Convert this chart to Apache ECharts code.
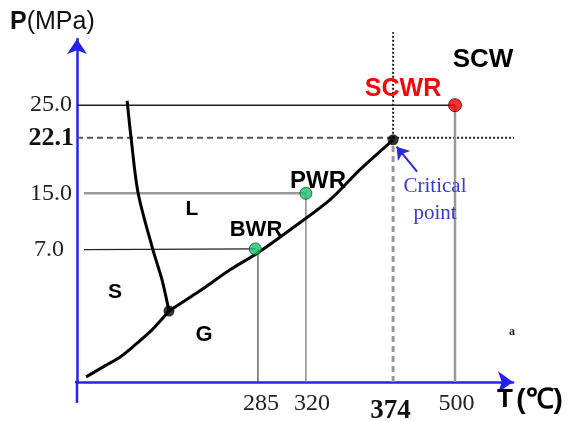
<!DOCTYPE html>
<html><head><meta charset="utf-8">
<script src="https://cdn.jsdelivr.net/npm/echarts@6/dist/echarts.min.js"></script>
<style>html,body{margin:0;padding:0;background:#fff}#c{width:583px;height:421px}</style>
</head><body><div id="c"></div>
<script>
// Schematic phase diagram of water: the original axes are not drawn to scale,
// so values are placed in schematic axis units.
const tempLabels = ['285', '320', '374', '500'];
const tempPos = [41.5, 52.5, 72.5, 86.7];
const presLabels = ['7.0', '15.0', '22.1', '25.0'];
const presPos = [38.6, 55.0, 71.2, 80.7];

const sublimationCurve = [[2.1, 1.5], [6.4, 4.7], [9.9, 7.3], [13.3, 10.8], [17.2, 15.2], [21.1, 20.7]];
const vaporizationCurve = [[21.1, 20.7], [28.2, 26.6], [35.1, 32.7], [41.5, 37.7], [48.9, 44.4], [58.0, 53.1], [64.9, 61.9], [72.5, 70.6]];
const meltingCurve = [[21.1, 20.7], [19.5, 29.8], [17.4, 38.6], [14.0, 55.2], [12.4, 71.2], [11.5, 82.0]];

const triplePoint = [21.1, 20.7];
const criticalPoint = [72.5, 70.6];
const bwrPoint = [40.9, 38.8];
const pwrPoint = [52.5, 55.0];
const scwrPoint = [86.7, 80.7];
const criticalArrow = [[78.0, 61.3], [73.3, 68.6]];
const dottedEndX = 101.2;
const dottedEndY = 102.0;
const axisBackX = -4.6;
const axisBackY = -6.1;

const chart = echarts.init(document.getElementById('c'), null, {renderer: 'canvas'});

function lineSeries(data, style, z) {
  return {type: 'line', data: data, symbol: 'none', silent: true, clip: false, z: z || 2,
    lineStyle: style, animation: false};
}

const blue = '#2323f0';
const series = [
  // axis extensions past the origin
  lineSeries([[axisBackX, 0], [0, 0]], {color: blue, width: 2.5}, 1),
  lineSeries([[0, axisBackY], [0, 0]], {color: blue, width: 2.5}, 1),
  // reference lines
  lineSeries([[0, presPos[3]], scwrPoint], {color: '#222', width: 1.5}),
  lineSeries([[0, presPos[2]], [criticalPoint[0], presPos[2]]], {color: '#555', width: 2, type: [6, 4]}),
  lineSeries([[criticalPoint[0], presPos[2]], [dottedEndX, presPos[2]]], {color: '#222', width: 2, type: [2, 2]}),
  lineSeries([[1.6, presPos[1]], pwrPoint], {color: '#999', width: 2.5}),
  lineSeries([[1.6, presPos[0]], bwrPoint], {color: '#222', width: 1.2}),
  lineSeries([[tempPos[0], 0], [tempPos[0], presPos[0]]], {color: '#444', width: 1.2}),
  lineSeries([[tempPos[1], 0], [tempPos[1], presPos[1]]], {color: '#888', width: 1.5}),
  lineSeries([[tempPos[2], 0], criticalPoint], {color: '#999', width: 3, type: [6, 4]}),
  lineSeries([[tempPos[2], presPos[2]], [tempPos[2], dottedEndY]], {color: '#222', width: 2, type: [2, 2]}),
  lineSeries([[tempPos[3], 0], scwrPoint], {color: '#999', width: 2.5}),
  // phase boundaries
  Object.assign(lineSeries(sublimationCurve, {color: '#000', width: 3}, 5), {smooth: 0.3}),
  Object.assign(lineSeries(vaporizationCurve, {color: '#000', width: 3}, 5), {smooth: 0.3}),
  Object.assign(lineSeries(meltingCurve, {color: '#000', width: 3}, 5), {smooth: 0.3}),
  // critical point arrow
  {type: 'lines', coordinateSystem: 'cartesian2d', z: 6, silent: true, animation: false,
    symbol: ['none', 'arrow'], symbolSize: 12,
    lineStyle: {color: '#2a2ad0', width: 2, opacity: 1},
    data: [{coords: criticalArrow}]},
  // points
  {type: 'scatter', z: 10, silent: true, animation: false, symbolSize: 11,
    itemStyle: {color: '#000'}, data: [triplePoint, criticalPoint]},
  {type: 'scatter', z: 10, silent: true, animation: false, symbolSize: 12,
    itemStyle: {color: '#1dbf6e', borderColor: '#0b5a30', borderWidth: 1}, data: [bwrPoint, pwrPoint]},
  {type: 'scatter', z: 10, silent: true, animation: false, symbolSize: 13,
    itemStyle: {color: '#f00000', borderColor: '#600', borderWidth: 1}, data: [scwrPoint]}
];

function txt(x, y, text, style) {
  return {type: 'text', x: x, y: y, z: 20, silent: true,
    style: Object.assign({text: text, align: 'center', verticalAlign: 'middle', fill: '#000'}, style)};
}
const sansB = {fontFamily: 'Liberation Sans, Arial, sans-serif', fontWeight: 'bold'};
const tempLabelStyle = ['a', 'c', 'b', 'n'];

chart.setOption({
  animation: false,
  backgroundColor: '#fff',
  grid: {left: 77, right: 70, top: 39, bottom: 39, containLabel: false, outerBoundsMode: 'none'},
  xAxis: {
    type: 'value', min: 0, max: 100,
    splitLine: {show: false}, axisTick: {show: false},
    axisLine: {onZero: false, lineStyle: {color: blue, width: 2.5}, symbol: ['none', 'arrow'], symbolSize: [16, 15]},
    axisLabel: {
      customValues: tempPos, margin: 10, color: '#222',
      fontFamily: 'Liberation Serif, Times New Roman, serif', fontSize: 24,
      formatter: function (v) {
        const i = tempPos.findIndex(p => Math.abs(p - v) < 1e-6);
        return '{' + tempLabelStyle[i] + '|' + tempLabels[i] + '}';
      },
      rich: {
        n: {fontFamily: 'Liberation Serif', fontSize: 24, color: '#222', padding: [0, 0, 0, 3]},
        a: {fontFamily: 'Liberation Serif', fontSize: 24, color: '#222', padding: [0, 0, 0, 6]},
        c: {fontFamily: 'Liberation Serif', fontSize: 24, color: '#222', padding: [0, 0, 0, 12]},
        b: {fontFamily: 'Liberation Serif', fontSize: 27, fontWeight: 'bold', color: '#111', padding: [6, 5, 0, 0]}
      }
    }
  },
  yAxis: {
    type: 'value', min: 0, max: 100,
    splitLine: {show: false}, axisTick: {show: false},
    axisLine: {onZero: false, lineStyle: {color: blue, width: 2.5}, symbol: ['none', 'arrow'], symbolSize: [15, 15]},
    axisLabel: {
      customValues: presPos, margin: 5, color: '#222',
      fontFamily: 'Liberation Serif, Times New Roman, serif', fontSize: 24,
      formatter: function (v) {
        const i = presPos.findIndex(p => Math.abs(p - v) < 1e-6);
        const t = presLabels[i];
        if (t === '22.1') return '{b|' + t + '}';
        if (t === '7.0') return '{s|' + t + '}';
        return '{n|' + t + '}';
      },
      rich: {
        n: {fontFamily: 'Liberation Serif', fontSize: 24, color: '#222'},
        s: {fontFamily: 'Liberation Serif', fontSize: 24, color: '#222', padding: [0, 8, 0, 0]},
        b: {fontFamily: 'Liberation Serif', fontSize: 26, fontWeight: 'bold', color: '#111', padding: [0, -2, 0, 0]}
      }
    }
  },
  series: series,
  graphic: [
    {type: 'text', x: 10, y: 22, z: 20, silent: true, style: {
      text: '{p|P}{u|(MPa)}', verticalAlign: 'middle', align: 'left',
      rich: {p: {fontFamily: 'Liberation Sans', fontWeight: 'bold', fontSize: 25, fill: '#111'},
             u: {fontFamily: 'Liberation Sans', fontSize: 25, fill: '#111'}}}},
    {type: 'text', x: 497, y: 400, z: 20, silent: true, style: {
      text: '{t|T} {u|(℃)}', verticalAlign: 'middle', align: 'left',
      rich: {t: {fontFamily: 'Liberation Sans', fontWeight: 'bold', fontSize: 26, fill: '#000'},
             u: {fontFamily: 'Liberation Sans', fontWeight: 'bold', fontSize: 28, fill: '#000'}}}},
    txt(483, 60, 'SCW', Object.assign({fontSize: 26}, sansB)),
    txt(403, 89, 'SCWR', Object.assign({fontSize: 25, fill: '#ee0a0a'}, sansB)),
    txt(318, 181, 'PWR', Object.assign({fontSize: 24}, sansB)),
    txt(256, 230, 'BWR', Object.assign({fontSize: 22}, sansB)),
    txt(192, 209, 'L', Object.assign({fontSize: 21}, sansB)),
    txt(115, 292, 'S', Object.assign({fontSize: 21}, sansB)),
    txt(204, 335, 'G', Object.assign({fontSize: 22}, sansB)),
    txt(512, 332, 'a', {fontFamily: 'Liberation Serif', fontWeight: 'bold', fontSize: 12, fill: '#222'}),
    txt(435, 200, 'Critical\npoint', {fontFamily: 'Liberation Serif', fontSize: 21, lineHeight: 27, fill: '#3a3ac8'})
  ]
});
</script>
</body></html>
